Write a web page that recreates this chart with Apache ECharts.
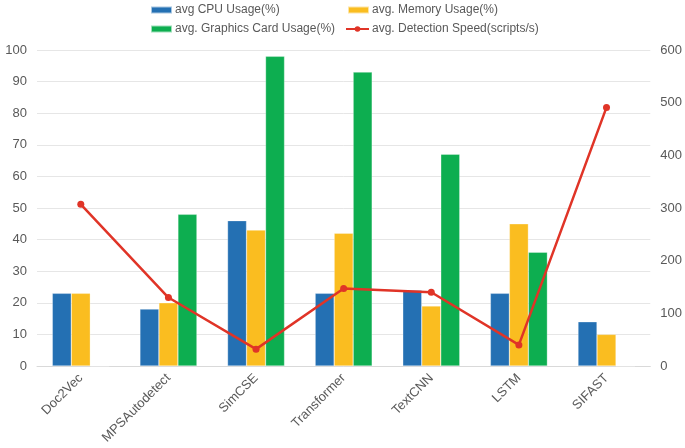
<!DOCTYPE html>
<html>
<head>
<meta charset="utf-8">
<script src="https://cdn.jsdelivr.net/npm/echarts@6/dist/echarts.min.js"></script>
<style>
  html, body { margin: 0; padding: 0; background: #fff; }
  #main { width: 685px; height: 448px; }
</style>
</head>
<body>
<div id="main"></div>
<script>
  const categories = ['Doc2Vec', 'MPSAutodetect', 'SimCSE', 'Transformer', 'TextCNN', 'LSTM', 'SIFAST'];
  const cpuUsage = [23, 18, 46, 23, 24, 23, 14];
  const memoryUsage = [23, 20, 43, 42, 19, 45, 10];
  const gpuUsage = [0, 48, 98, 93, 67, 36, 0];
  const detectionSpeed = [307, 130, 32, 147, 140, 40, 491];
  const leftTicks = [0, 100, 10];
  const rightTicks = [0, 600, 100];

  const names = ['avg CPU Usage(%)', 'avg. Memory Usage(%)', 'avg. Graphics Card Usage(%)', 'avg. Detection Speed(scripts/s)'];
  const colors = ['#2470B3', '#FABD20', '#0DAE50', '#E03427'];
  const textGrey = '#595959';

  const chart = echarts.init(document.getElementById('main'));

  // one legend per entry so they can sit on the 2x2 layout
  const legendPos = [[150, 4], [347, 4], [150, 23], [345, 23]];
  const legends = names.map((n, i) => ({
    data: [{ name: n, icon: i === 3 ? undefined : 'rect' }],
    left: legendPos[i][0],
    top: legendPos[i][1],
    itemWidth: i === 3 ? 23 : 21,
    itemHeight: 7,
    padding: 0,
    textStyle: { color: textGrey, fontSize: 12, fontFamily: 'Liberation Sans', padding: [0, 0, 0, -2] }
  }));

  const barSeries = [cpuUsage, memoryUsage, gpuUsage].map((d, i) => ({
    name: names[i],
    type: 'bar',
    data: d,
    barWidth: 19,
    barGap: '0%',
    itemStyle: { color: colors[i], borderColor: 'rgba(255,255,255,0.6)', borderWidth: 0.5 }
  }));

  const option = {
    animation: false,
    legend: legends,
    grid: { left: 37, right: 34, top: 50, bottom: 82 },
    xAxis: {
      type: 'category',
      data: categories,
      axisLine: { lineStyle: { color: '#D9D9D9' } },
      axisTick: { show: false },
      axisLabel: {
        rotate: 45,
        interval: 0,
        color: textGrey,
        fontSize: 13,
        fontFamily: 'Liberation Sans',
        margin: 10
      }
    },
    yAxis: [
      {
        type: 'value',
        min: leftTicks[0],
        max: leftTicks[1],
        interval: leftTicks[2],
        axisLine: { show: false },
        axisTick: { show: false },
        splitLine: { lineStyle: { color: '#E6E6E6', width: 1 } },
        axisLabel: { color: textGrey, fontSize: 13, fontFamily: 'Liberation Sans', margin: 10 }
      },
      {
        type: 'value',
        min: rightTicks[0],
        max: rightTicks[1],
        interval: rightTicks[2],
        axisLine: { show: false },
        axisTick: { show: false },
        splitLine: { show: false },
        axisLabel: { color: textGrey, fontSize: 13, fontFamily: 'Liberation Sans', margin: 10 }
      }
    ],
    series: barSeries.concat([{
      name: names[3],
      type: 'line',
      yAxisIndex: 1,
      data: detectionSpeed,
      symbol: 'circle',
      symbolSize: 7,
      lineStyle: { color: colors[3], width: 2.5 },
      itemStyle: { color: colors[3] }
    }])
  };

  chart.setOption(option);
</script>
</body>
</html>
